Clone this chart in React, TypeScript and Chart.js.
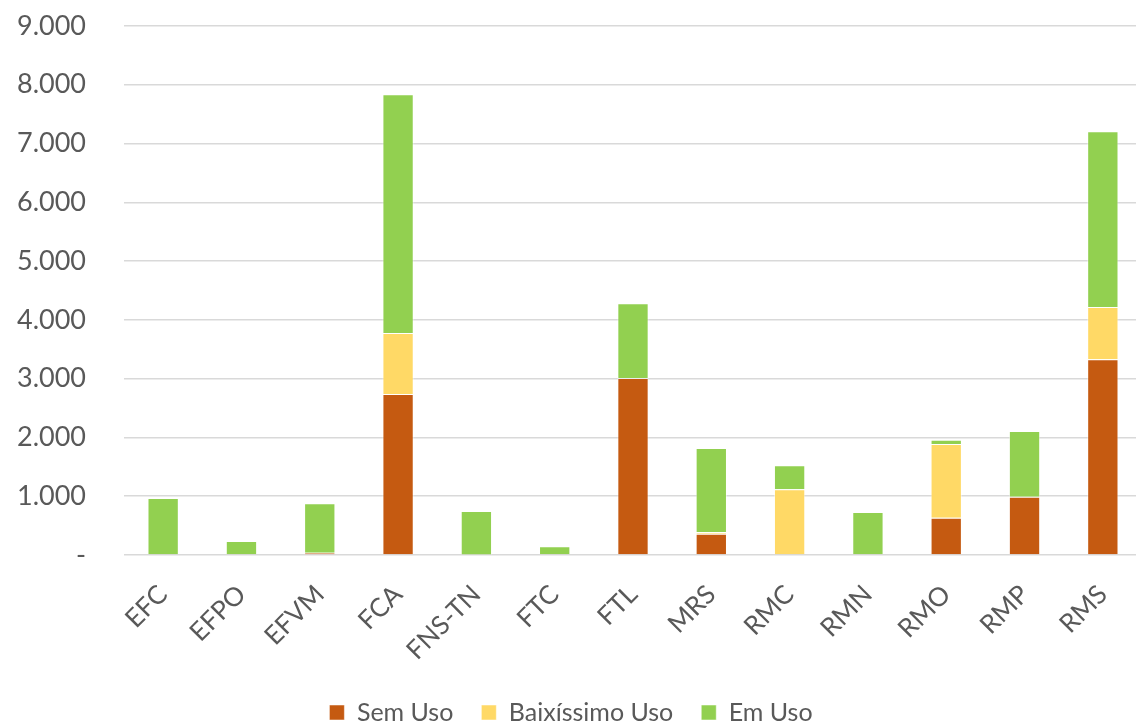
import React, { useEffect, useRef } from "react";
import { Chart, registerables } from "chart.js";

Chart.register(...registerables);

const categories = ["EFC", "EFPO", "EFVM", "FCA", "FNS-TN", "FTC", "FTL", "MRS", "RMC", "RMN", "RMO", "RMP", "RMS"];
const semUso = [0, 0, 40, 2740, 0, 0, 3010, 360, 0, 0, 635, 990, 3330];
const baixissimoUso = [0, 0, 0, 1035, 10, 0, 0, 30, 1120, 0, 1255, 0, 890];
const emUso = [970, 240, 840, 4065, 740, 150, 1275, 1430, 405, 730, 70, 1120, 2990];

const FONT = "Lato";

export default function App() {
  const ref = useRef<HTMLCanvasElement>(null);
  useEffect(() => {
    document.body.style.margin = "0";
    document.body.style.overflow = "hidden";
    const ctx = ref.current!;
    const chart = new Chart(ctx, {
      type: "bar",
      data: {
        labels: categories,
        datasets: [
          { label: "Sem Uso", data: semUso, backgroundColor: "#C55A11", borderColor: "rgba(255,255,255,0.5)", borderWidth: 1 },
          { label: "Baixíssimo Uso", data: baixissimoUso, backgroundColor: "#FFD966", borderColor: "rgba(255,255,255,0.5)", borderWidth: 1 },
          { label: "Em Uso", data: emUso, backgroundColor: "#92D050", borderColor: "rgba(255,255,255,0.5)", borderWidth: 1 },
        ],
      },
      options: {
        animation: false,
        responsive: false,
        maintainAspectRatio: false,
        layout: { padding: { top: 26, right: 0, left: 0, bottom: -8 } },
        datasets: { bar: { barPercentage: 0.4, categoryPercentage: 1 } },
        plugins: {
          legend: {
            position: "bottom",
            labels: {
              boxWidth: 15,
              boxHeight: 15,
              padding: 28,
              color: "#595959",
              font: { family: FONT, size: 25 },
            },
          },
          tooltip: { enabled: false },
        },
        scales: {
          x: {
            stacked: true,
            grid: { display: false, drawTicks: false },
            border: { display: false },
            ticks: {
              color: "#595959",
              font: { family: FONT, size: 26 },
              maxRotation: 45,
              minRotation: 45,
              padding: 24,
            },
            afterFit: (s: any) => {
              s.height = 117;
              s.paddingLeft = 0;
              s.paddingRight = 0;
            },
          },
          y: {
            stacked: true,
            min: 0,
            max: 9000,
            grid: { color: "#D9D9D9", lineWidth: 1.5, drawTicks: false },
            border: { display: false },
            ticks: {
              stepSize: 1000,
              color: "#595959",
              font: { family: FONT, size: 27 },
              padding: 38,
              callback: (v: any) => (v === 0 ? "-" : Number(v).toLocaleString("de-DE")),
            },
            afterFit: (s: any) => {
              s.width = 124;
              s.paddingTop = 0;
              s.paddingBottom = 0;
            },
          },
        },
      },
    });
    return () => chart.destroy();
  }, []);
  return (
    <div style={{ width: 1142, height: 727, overflow: "hidden" }}>
      <canvas ref={ref} width={1142} height={727} style={{ display: "block" }} />
    </div>
  );
}
